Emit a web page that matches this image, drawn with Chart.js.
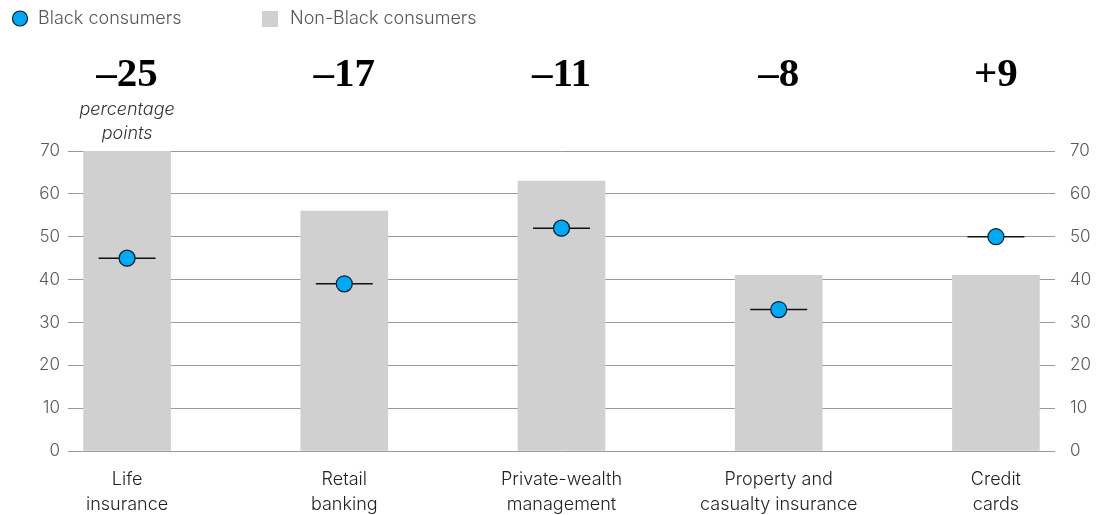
<!DOCTYPE html>
<html>
<head>
<meta charset="utf-8">
<script src="https://cdn.jsdelivr.net/npm/chart.js@4.4.1/dist/chart.umd.min.js"></script>
<style>
  html, body { margin: 0; padding: 0; background: #fff; }
  #wrap { width: 1100px; height: 515px; position: relative; }
</style>
</head>
<body>
<div id="wrap"><canvas id="chart" width="1100" height="515"></canvas></div>
<script>
// Product categories (two-line axis labels)
const categories = [
  ['Life', 'insurance'],
  ['Retail', 'banking'],
  ['Private-wealth', 'management'],
  ['Property and', 'casualty insurance'],
  ['Credit', 'cards']
];
// Share of consumers, %
const nonBlackValues = [70, 56, 63, 41, 41];
const blackValues = [45, 39, 52, 33, 50];
// Value axis ticks
const yTicks = [0, 10, 20, 30, 40, 50, 60, 70];

const FONT = 'Inter, "Liberation Sans", Arial, sans-serif';
const CYAN = '#00A9F4';
const BAR_GREY = '#D0D0D0';
const GRID = '#9a9a9a';

const idx = categories.map((_, i) => i);
const barData = idx.map(i => ({ x: i, y: nonBlackValues[i] }));
const dotData = idx.map(i => ({ x: i, y: blackValues[i] }));

function fmtGap(d) {
  if (d > 0) return '+' + d;
  if (d < 0) return '\u2013' + Math.abs(d);
  return '0';
}

// Legend and gap headline numbers above each column
const overlay = {
  id: 'overlay',
  afterDraw(chart) {
    const ctx = chart.ctx;
    const x = chart.scales.x;
    ctx.save();
    // legend
    ctx.font = '300 18px ' + FONT;
    ctx.textBaseline = 'middle';
    ctx.fillStyle = CYAN;
    ctx.strokeStyle = '#051C2C';
    ctx.lineWidth = 1.2;
    ctx.beginPath();
    ctx.arc(20, 18.5, 7.5, 0, Math.PI * 2);
    ctx.fill();
    ctx.stroke();
    ctx.fillStyle = '#555';
    ctx.textAlign = 'left';
    ctx.fillText('Black consumers', 38, 18.5);
    ctx.fillStyle = BAR_GREY;
    ctx.fillRect(262, 11, 16, 16);
    ctx.fillStyle = '#555';
    ctx.fillText('Non-Black consumers', 290, 18.5);

    // gap headline numbers
    ctx.textAlign = 'center';
    ctx.textBaseline = 'alphabetic';
    ctx.fillStyle = '#000';
    ctx.font = 'bold 41px "Liberation Serif", "DejaVu Serif", serif';
    idx.forEach(i => {
      const gap = blackValues[i] - nonBlackValues[i];
      ctx.fillText(fmtGap(gap), x.getPixelForValue(i), 86);
    });
    ctx.font = 'italic 300 18px ' + FONT;
    ctx.fillStyle = '#333';
    const cx = x.getPixelForValue(0);
    ctx.fillText('percentage', cx, 115);
    ctx.fillText('points', cx, 139);
    ctx.restore();
  }
};

const yCommon = {
  min: 0,
  max: 70,
  afterBuildTicks: s => { s.ticks = yTicks.map(v => ({ value: v })); },
  border: { display: false },
  ticks: {
    color: '#5a5a5a',
    font: { family: FONT, size: 17, weight: 300 },
    padding: 8
  }
};

new Chart(document.getElementById('chart'), {
  type: 'bar',
  data: {
    datasets: [
      {
        type: 'line',
        label: 'Black consumers',
        data: dotData,
        showLine: false,
        pointStyle: 'circle',
        pointRadius: 8,
        pointBackgroundColor: CYAN,
        pointBorderColor: '#051C2C',
        pointBorderWidth: 1.2,
        order: 0
      },
      {
        type: 'line',
        label: 'marker rule',
        data: dotData,
        showLine: false,
        pointStyle: 'line',
        pointRadius: 28.5,
        pointBorderColor: '#111',
        pointBorderWidth: 1.5,
        order: 1
      },
      {
        type: 'bar',
        label: 'Non-Black consumers',
        data: barData,
        backgroundColor: BAR_GREY,
        barThickness: 87,
        order: 2
      }
    ]
  },
  options: {
    responsive: false,
    animation: false,
    events: [],
    layout: { padding: { top: 151, left: 0, right: 0, bottom: 0 } },
    plugins: {
      legend: { display: false },
      tooltip: { enabled: false }
    },
    scales: {
      x: {
        type: 'linear',
        offset: false,
        min: -0.272,
        max: 4.272,
        afterBuildTicks: s => { s.ticks = idx.map(v => ({ value: v })); },
        afterFit: s => { s.height = 64; },
        grid: { display: false },
        border: { display: false },
        ticks: {
          color: '#222',
          font: { family: FONT, size: 18, weight: 300, lineHeight: 1.34 },
          padding: 9,
          maxRotation: 0,
          autoSkip: false,
          callback: v => categories[v]
        }
      },
      y: Object.assign({}, yCommon, {
        position: 'left',
        afterFit: s => { s.width = 68; },
        grid: { color: GRID, lineWidth: 1, drawTicks: false }
      }),
      y2: Object.assign({}, yCommon, {
        position: 'right',
        afterFit: s => { s.width = 45; },
        grid: { display: false },
        ticks: Object.assign({}, yCommon.ticks, { padding: 7 })
      })
    }
  },
  plugins: [overlay]
});
</script>
</body>
</html>
